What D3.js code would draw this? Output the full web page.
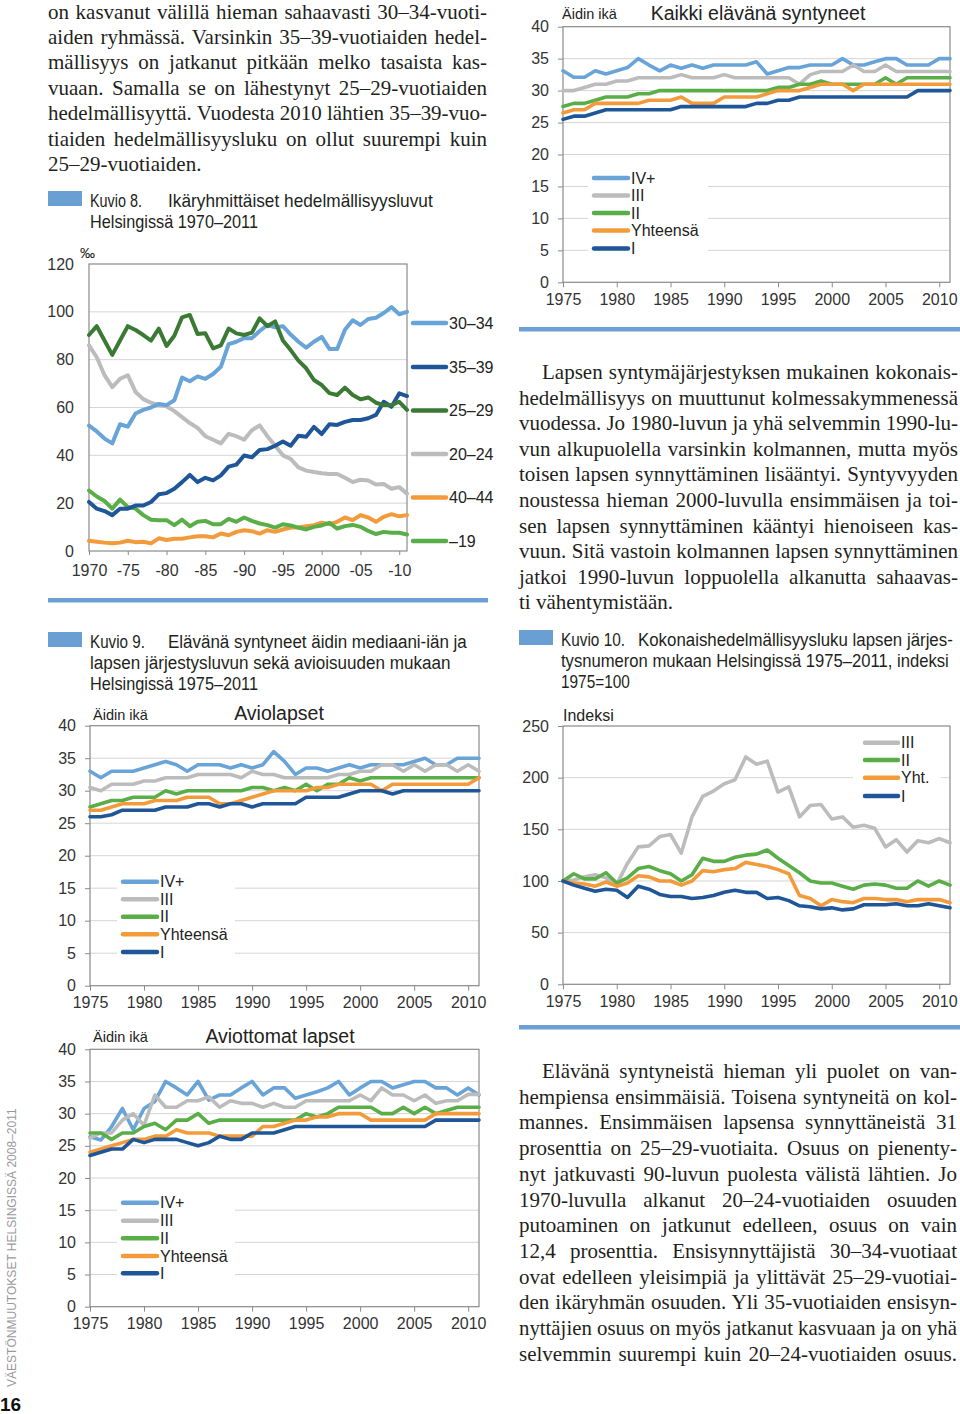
<!DOCTYPE html>
<html><head><meta charset="utf-8">
<script src="https://cdn.jsdelivr.net/npm/d3@7"></script>
<style>
body{margin:0;background:#fff}
svg{display:block}
.body{font-family:"Liberation Serif","DejaVu Serif",serif;font-size:21px;fill:#231f20}
.tick text{font-family:"Liberation Sans",Arial,sans-serif;font-size:16px;fill:#333}
.lab{font-family:"Liberation Sans",Arial,sans-serif;fill:#222}
.cap{font-family:"Liberation Sans Narrow","Arial Narrow","Liberation Sans",sans-serif;font-size:19px;fill:#231f20}
</style>
</head><body>
<svg id="c" width="960" height="1414"></svg>
<script>
// ---------- DATA ----------
const years8 = [1970,1971,1972,1973,1974,1975,1976,1977,1978,1979,1980,1981,1982,1983,1984,1985,1986,1987,1988,1989,1990,1991,1992,1993,1994,1995,1996,1997,1998,1999,2000,2001,2002,2003,2004,2005,2006,2007,2008,2009,2010,2011];
const xLabels8 = ["1970","-75","-80","-85","-90","-95","2000","-05","-10"];
const xTicks8 = [1970,1975,1980,1985,1990,1995,2000,2005,2010];
const fert30_34 = [52.4,50,47,45,53,52,57.5,59,60,61.5, 61,63,72.5,71,73,72,74,77,86.5,87.5, 89,89,92,94.5,93.5,94,90.5,87.5,85,87.5, 89.5,84.5,84.5,92.5,96.5,94.5,97,97.5,99.5,102, 99,100];
const fert35_39 = [20.5,17.7,16.7,15,17.7,17.7,19,19,20.5,23.7, 24.2,26,28.8,31.8,28.8,30.6,29.5,31.6,35.3,36.1, 39.9,39.2,42.2,42.6,44,45.8,44,48.2,47.8,51.9, 48.9,53,52.7,54,54.8,54.8,55.5,56.9,62.4,60.3, 65.9,64.8];
const fert25_29 = [90.3,94,88,82,88,94,92.4,90.3,88,93, 85.7,90,97.7,98.7,90.7,91,84.7,86,93,91, 90.3,91.3,97.3,94,96,88,84,79.6,76.4,71.5, 69.4,66,65.2,68.3,65.2,63.4,64.2,62,61,61, 62.4,59];
const fert20_24 = [86,81,73.5,68.5,72,73.5,66.5,63.5,62,61, 60.5,58.5,56,53.5,51.5,48,46.5,45,49,48, 46.5,50.5,52.5,48,44,40,38.5,35,33.6,33, 32.5,32.2,32.2,30.6,28.8,29.8,29.5,27.8,28,26, 26.7,24];
const fert40_44 = [4.3,3.9,3.5,3.2,3.5,4.3,3.7,3.9,3.2,5.3, 4.6,5.1,5.1,5.7,6.2,6.2,5.7,7.3,6.6,8, 8.7,8.3,7.3,8.7,8,9,9.8,9.8,10.4,10.8, 11.8,11.2,12.2,14,12.9,15,14,12.2,14.3,15.4, 14.5,15];
const fertU19 = [25.3,22.8,20.9,17.7,21.5,18.4,17.7,15,13.1,12.9, 12.9,10.8,13.1,10.4,12.2,12.6,11.2,11.2,13.4,12.2, 14,12.6,11.5,10.8,9.8,11.2,10.7,9.8,9,10.1, 10.7,11.8,9.4,10.4,10.9,10.1,8.4,7.1,8,7.6, 7.6,6.9];
const legend8 = ["30–34","35–39","25–29","20–24","40–44","–19"];

const years9 = [1975,1976,1977,1978,1979,1980,1981,1982,1983,1984,1985,1986,1987,1988,1989,1990,1991,1992,1993,1994,1995,1996,1997,1998,1999,2000,2001,2002,2003,2004,2005,2006,2007,2008,2009,2010,2011];
const xTicks9 = [1975,1980,1985,1990,1995,2000,2005,2010];
const ageTicks = [0,5,10,15,20,25,30,35,40];
const legendAge = ["IV+","III","II","Yhteensä","I"];

// Kaikki elävänä syntyneet
const allIV  = [33.1,32.1,32.1,33.1,32.6,33.1,33.6,35,34,33.1, 34,33.5,34,33.5,34,34,34,34,34.5,32.6, 33.1,33.6,33.6,34,34,34,35,34,34,34.5, 35,35,34,34,34,35,35];
const allIII = [30,30,30.5,31,31,31.5,31.5,32,32,32, 32,32.5,32,32,32,32.5,32,32,32,32, 32,32,31,32.5,33,33,33,34,33,33, 34,33,33,33,33,33,33];
const allII  = [27.5,28,28,28.5,29,29,29,29.5,29.5,30, 30,30,30,30,30,30,30,30,30,30, 30.5,30.5,31,31,31.5,31,31,31,31,31, 32,31,32,32,32,32,32];
const allY   = [26.5,27,27,28,28,28,28,28,28.5,28.5, 28.5,29,28,28,28,29,29,29,29,29.5, 30,30,30,30.5,31,31,31,30,31,31, 31,31,31,31,31,31,31];
const allI   = [25.5,26,26,26.5,27,27,27,27,27,27, 27,27.5,27.5,27.5,27.5,27.5,27.5,27.5,28,28, 28.5,28.5,29,29,29,29,29,29,29,29, 29,29,29,30,30,30,30];

// Aviolapset
const avioIV  = [33,32,33,33,33,33.5,34,34.5,34,33, 34,34,34,33.5,34,33.5,34,36,34.5,32.5, 33.5,33.5,33,33.5,34,33.5,34,34,34,34, 34.5,35,34,34,35,35,35];
const avioIII = [30.5,30,31,31,31,31.5,31.5,32,32,32, 32.5,32.5,32.5,32.5,32,33,32.5,32.5,32,32, 32,32,32,32.5,32.5,33,33,34,34,33, 34,33,34,34,33,34,33];
const avioII  = [27.5,28,28.5,28.5,29,29,29,30,29.5,30, 30,30,30,30,30,30.5,30.5,30,30.5,30, 31,30,31,31,32,31.5,32,32,32,32, 32,32,32,32,32,32,32];
const avioY   = [27,27,27.5,28,28,28,28.5,28.5,28.5,29, 29,29,28,28,28.5,29,29.5,30,30,30, 30,30.5,30.5,31,31,31,31,30,31,31, 31,31,31,31,31,31,32];
const avioI   = [26,26,26.3,27,27,27,27,27.5,27.5,27.5, 28,28,27.5,28,28,27.5,28,28,28,28, 29,29,29,29,29.5,30,30,30,29.5,30, 30,30,30,30,30,30,30];

// Aviottomat lapset
const aviotIV  = [26.4,25.9,28,30.8,27.5,30.8,31.9,35,34,32.9, 35,32.1,32.9,32.9,34,35,32.9,34,34,32.4, 32.9,33.4,34,35,32.9,34,35,35,34,34.5, 35,35,34,34,32.9,34,32.9];
const aviotIII = [26.2,27,27,29,30,28.2,32.9,31,31,32, 32,32.6,31,32,31.6,31.6,31,31.6,31,31, 32,32,32,32,32,32.9,32,34,32.9,32.9, 32,32.9,31.6,32,32,33,33];
const aviotII  = [27,27,26,27,27,28,28.5,27.5,29,29, 30,28.5,29,29,29,29,29,29,29,29, 30,29.5,30,31,31,31,31,30,30,31, 30,31,30,30.5,31,31,31];
const aviotY   = [24,24.5,25,25.5,26,26,26.5,26.5,27.5,27, 27,27,26.5,26.5,26.5,26.5,28,28,28.5,29, 29,29.5,29.5,30,30,30,29,29,29,29, 29,29,30,30,30,30,30];
const aviotI   = [23.5,24,24.5,24.5,26,25.5,26,26,26,25.5, 25,25.5,26.5,26,26,27,27,27,27.5,28, 28,28,28,28,28,28,28,28,28,28, 28,28,29,29,29,29,29];

// Kuvio 10 (indeksi 1975=100)
const idxTicks = [0,50,100,150,200,250];
const legend10 = ["III","II","Yht.","I"];
const k10III = [100,101,104,106,103,97,117,133,134,143, 145,127,162,182,187,194,198,220,213,216, 186,191,162,173,174,160,162,152,154,151, 133,140,128,139,137,141,137];
const k10II  = [100,107,102,102,108,98,103,112,114,110, 107,100,106,122,119,119,123,125,126,130, 122,115,108,100,98,98,95,92,96,97, 96,93,93,100,95,100,96];
const k10Y   = [100,98,97,95,99,95,98,105,104,100, 100,96,100,110,109,111,112,118,116,114, 111,107,86,83,76,82,80,79,83,83, 82,82,80,82,82,82,79];
const k10I   = [100,96,93,90,92,91,84,95,92,87, 85,85,83,84,86,89,91,89,89,83, 84,81,76,75,73,74,72,73,77,77, 77,78,76,76,78,76,74];

// ---------- TEXT ----------
const paraTop = [
 ["on kasvanut välillä hieman sahaavasti 30–34-vuoti-",1],
 ["aiden ryhmässä. Varsinkin 35–39-vuotiaiden hedel-",1],
 ["mällisyys on jatkanut pitkään melko tasaista kas-",1],
 ["vuaan. Samalla se on lähestynyt 25–29-vuotiaiden",1],
 ["hedelmällisyyttä. Vuodesta 2010 lähtien 35–39-vuo-",1],
 ["tiaiden hedelmällisyysluku on ollut suurempi kuin",1],
 ["25–29-vuotiaiden.",0]];
const paraR1 = [
 ["Lapsen syntymäjärjestyksen mukainen kokonais-",1],
 ["hedelmällisyys on muuttunut kolmessakymmenessä",1],
 ["vuodessa. Jo 1980-luvun ja yhä selvemmin 1990-lu-",1],
 ["vun alkupuolella varsinkin kolmannen, mutta myös",1],
 ["toisen lapsen synnyttäminen lisääntyi. Syntyvyyden",1],
 ["noustessa hieman 2000-luvulla ensimmäisen ja toi-",1],
 ["sen lapsen synnyttäminen kääntyi hienoiseen kas-",1],
 ["vuun. Sitä vastoin kolmannen lapsen synnyttäminen",1],
 ["jatkoi 1990-luvun loppuolella alkanutta sahaavas-",1],
 ["ti vähentymistään.",0]];
const paraR2 = [
 ["Elävänä syntyneistä hieman yli puolet on van-",1],
 ["hempiensa ensimmäisiä. Toisena syntyneitä on kol-",1],
 ["mannes. Ensimmäisen lapsensa synnyttäneistä 31",1],
 ["prosenttia on 25–29-vuotiaita. Osuus on pienenty-",1],
 ["nyt jatkuvasti 90-luvun puolesta välistä lähtien. Jo",1],
 ["1970-luvulla alkanut 20–24-vuotiaiden osuuden",1],
 ["putoaminen on jatkunut edelleen, osuus on vain",1],
 ["12,4 prosenttia. Ensisynnyttäjistä 30–34-vuotiaat",1],
 ["ovat edelleen yleisimpiä ja ylittävät 25–29-vuotiai-",1],
 ["den ikäryhmän osuuden. Yli 35-vuotiaiden ensisyn-",1],
 ["nyttäjien osuus on myös jatkanut kasvuaan ja on yhä",1],
 ["selvemmin suurempi kuin 20–24-vuotiaiden osuus.",1]];

// ---------- DRAW ----------
const svg = d3.select('#c');
const COL = {lb:'#69a4d8', gr:'#bcbcbc', gn:'#5aae48', or:'#f39a3a', db:'#1f5698', dg:'#3b7a34'};
const SEP = '#6c9fd3';

function para(lines, x0, x1, y0, lh, indent){
  lines.forEach(([t,j],i)=>{
    const xs = x0 + (i===0?indent:0);
    const el = svg.append('text').attr('class','body').attr('x',xs).attr('y',y0+i*lh).text(t);
    const w = el.node().getComputedTextLength();
    const target = x1 - xs;
    if(w > target){
      el.attr('textLength', target).attr('lengthAdjust','spacingAndGlyphs');
    } else if(j){
      const n = (t.match(/ /g)||[]).length;
      if(n) el.attr('word-spacing', (target-w)/n);
    }
  });
}
para(paraTop, 48, 487, 18.5, 25.4, 0);
para(paraR1, 519, 958, 379, 25.6, 23);
para(paraR2, 519, 957, 1078, 25.7, 23);

// text squeezed horizontally to an exact width (condensed look) via a scale transform
function fitText(t, x, y, w, fs, rot, fill){
  const el = svg.append('text').attr('class','cap').style('font-size',fs+'px').text(t);
  if(fill) el.style('fill',fill);
  const nat = el.node().getComputedTextLength();
  const sx = w/nat;
  el.attr('transform',`translate(${x},${y})${rot?` rotate(${rot})`:''} scale(${sx},1)`);
  return el;
}
function caption(x, rectY, fs, items){
  svg.append('rect').attr('x',x).attr('y',rectY).attr('width',34).attr('height',15).attr('fill','#6a9fd4');
  items.forEach(([t,tx,ty,w])=>fitText(t,tx,ty,w,fs));
}
caption(48,191,19,[["Kuvio 8.",90,207,52],["Ikäryhmittäiset hedelmällisyysluvut",168,207,265],["Helsingissä 1970–2011",90,228,168]]);
caption(48,632,19,[["Kuvio 9.",90,648,55],["Elävänä syntyneet äidin mediaani-iän ja",168,648,299],["lapsen järjestysluvun sekä avioisuuden mukaan",90,669,361],["Helsingissä 1975–2011",90,690,168]]);
caption(519,630,19,[["Kuvio 10.",561,646,64],["Kokonaishedelmällisyysluku lapsen järjes-",638,646,315],["tysnumeron mukaan Helsingissä 1975–2011, indeksi",561,667,388],["1975=100",561,688,69]]);

// separators
[[48,598,440],[519,327,441],[519,1025,441]].forEach(([x,y,w])=>
  svg.append('rect').attr('x',x).attr('y',y).attr('width',w).attr('height',4.5).attr('fill',SEP));

function chart(o){
  const g = svg.append('g');
  const x = d3.scaleLinear().domain(o.xd).range([o.l,o.r]);
  const y = d3.scaleLinear().domain(o.yd).range([o.b,o.t]);
  g.selectAll('line.grid').data(o.grid).join('line').attr('class','grid')
    .attr('x1',o.l).attr('x2',o.r).attr('y1',d=>y(d)).attr('y2',d=>y(d))
    .attr('stroke','#d6d6d6').attr('stroke-width',1);
  if(o.legBg) g.append('rect').attr('x',o.legBg[0]).attr('y',o.legBg[1]).attr('width',o.legBg[2]).attr('height',o.legBg[3]).attr('fill','#fff');
  g.append('rect').attr('x',o.l).attr('y',o.t).attr('width',o.r-o.l).attr('height',o.b-o.t)
    .attr('fill','none').attr('stroke','#8a8a8a').attr('stroke-width',1.2);
  const ya = d3.axisLeft(y).tickValues(o.yticks).tickSize(o.yts).tickPadding(o.ypad).tickFormat(d3.format('d'));
  g.append('g').attr('transform',`translate(${o.l},0)`).call(ya)
    .call(a=>{a.select('.domain').remove(); a.selectAll('.tick line').attr('stroke','#8a8a8a');});
  const xa = d3.axisBottom(x).tickValues(o.xticks).tickSize(o.xts).tickPadding(o.xpad)
    .tickFormat((d,i)=>o.xlabels?o.xlabels[i]:String(d));
  g.append('g').attr('transform',`translate(0,${o.b})`).call(xa)
    .call(a=>{a.select('.domain').remove(); a.selectAll('.tick line').attr('stroke','#8a8a8a');});
  const line = d3.line().x((d,i)=>x(o.years[i])).y(d=>y(d));
  o.series.forEach(s=>g.append('path').attr('d',line(s.v)).attr('fill','none')
    .attr('stroke',s.c).attr('stroke-width',o.sw).attr('stroke-linejoin','round').attr('stroke-linecap','round'));
  o.legend.forEach((L,i)=>{
    g.append('line').attr('x1',o.lx0).attr('x2',o.lx1).attr('y1',L.y).attr('y2',L.y)
      .attr('stroke',L.c).attr('stroke-width',4.5).attr('stroke-linecap','round');
    g.append('text').attr('class','lab').attr('x',o.lx1+3).attr('y',L.y).attr('dy','0.36em')
      .attr('font-size',16).text(L.t);
  });
  (o.texts||[]).forEach(t=>g.append('text').attr('class','lab').attr('x',t.x).attr('y',t.y)
    .attr('font-size',t.s).attr('text-anchor',t.a||'start').text(t.t));
}

// Kuvio 8
chart({l:89,r:407,t:264,b:551,xd:[1970,2011],yd:[0,120],grid:[20,40,60,80,100],
  yticks:[0,20,40,60,80,100,120],yts:0,ypad:15,xticks:xTicks8,xlabels:xLabels8,xts:4,xpad:10,
  years:years8,sw:4,
  series:[{v:fert20_24,c:COL.gr},{v:fert40_44,c:COL.or},{v:fertU19,c:COL.gn},{v:fert35_39,c:COL.db},{v:fert30_34,c:COL.lb},{v:fert25_29,c:COL.dg}],
  lx0:413,lx1:446,
  legend:[{t:legend8[0],c:COL.lb,y:323},{t:legend8[1],c:COL.db,y:367},{t:legend8[2],c:COL.dg,y:410.5},
          {t:legend8[3],c:COL.gr,y:454},{t:legend8[4],c:COL.or,y:497.5},{t:legend8[5],c:COL.gn,y:541}],
  texts:[{t:'‰',x:80,y:258,s:15}]});

const ageSeries = (iv,iii,ii,yh,i1)=>[{v:iv,c:COL.lb},{v:iii,c:COL.gr},{v:ii,c:COL.gn},{v:yh,c:COL.or},{v:i1,c:COL.db}];
const ageLegend = (ys)=>legendAge.map((t,i)=>({t,c:[COL.lb,COL.gr,COL.gn,COL.or,COL.db][i],y:ys[i]}));

// Kaikki elävänä syntyneet
chart({l:563,r:950,t:26.7,b:282.3,xd:[1975,2011],yd:[0,40],grid:[5,10,15,20,25,30,35],
  yticks:ageTicks,yts:5,ypad:9,xticks:xTicks9,xts:5,xpad:6,years:years9,sw:3.6,
  legBg:[588,168,120,90],
  series:ageSeries(allIV,allIII,allII,allY,allI),
  lx0:594,lx1:628,legend:ageLegend([178,195.5,213,230.5,248.5]),
  texts:[{t:'Äidin ikä',x:562,y:19,s:14.5},{t:'Kaikki elävänä syntyneet',x:758,y:20,s:19.5,a:'middle'}]});

// Aviolapset
chart({l:90,r:479,t:725.7,b:985.7,xd:[1975,2011],yd:[0,40],grid:[5,10,15,20,25,30,35],
  yticks:ageTicks,yts:5,ypad:9,xticks:xTicks9,xts:5,xpad:6,years:years9,sw:3.6,
  legBg:[117,870,118,92],
  series:ageSeries(avioIV,avioIII,avioII,avioY,avioI),
  lx0:123,lx1:157,legend:ageLegend([881.7,899.3,916.7,934.3,952]),
  texts:[{t:'Äidin ikä',x:93,y:720,s:14.5},{t:'Aviolapset',x:279,y:720,s:19.5,a:'middle'}]});

// Aviottomat lapset
chart({l:90,r:479,t:1049.3,b:1306.7,xd:[1975,2011],yd:[0,40],grid:[5,10,15,20,25,30,35],
  yticks:ageTicks,yts:5,ypad:9,xticks:xTicks9,xts:5,xpad:6,years:years9,sw:3.6,
  legBg:[117,1191,118,92],
  series:ageSeries(aviotIV,aviotIII,aviotII,aviotY,aviotI),
  lx0:123,lx1:157,legend:ageLegend([1202.7,1220.7,1238.3,1256,1273.3]),
  texts:[{t:'Äidin ikä',x:93,y:1042,s:14.5},{t:'Aviottomat lapset',x:280,y:1043,s:19.5,a:'middle'}]});

// Kuvio 10
chart({l:563,r:950,t:726,b:984.3,xd:[1975,2011],yd:[0,250],grid:[50,100,150,200],
  yticks:idxTicks,yts:5,ypad:9,xticks:xTicks9,xts:5,xpad:6,years:years9,sw:3.6,
  legBg:[853,732,88,74],
  series:[{v:k10III,c:COL.gr},{v:k10II,c:COL.gn},{v:k10Y,c:COL.or},{v:k10I,c:COL.db}],
  lx0:865,lx1:898,
  legend:legend10.map((t,i)=>({t,c:[COL.gr,COL.gn,COL.or,COL.db][i],y:[742.7,760,777.7,796][i]})),
  texts:[{t:'Indeksi',x:563,y:721,s:16}]});

// side header + page number
fitText('VÄESTÖNMUUTOKSET HELSINGISSÄ 2008–2011', 16, 1387, 279, 13, -90, '#9a9a9a');
svg.append('text').attr('x',0).attr('y',1411).attr('font-family','Liberation Sans, Arial, sans-serif')
  .attr('font-weight','bold').attr('font-size',19).attr('fill','#111').text('16');
</script>
</body></html>
